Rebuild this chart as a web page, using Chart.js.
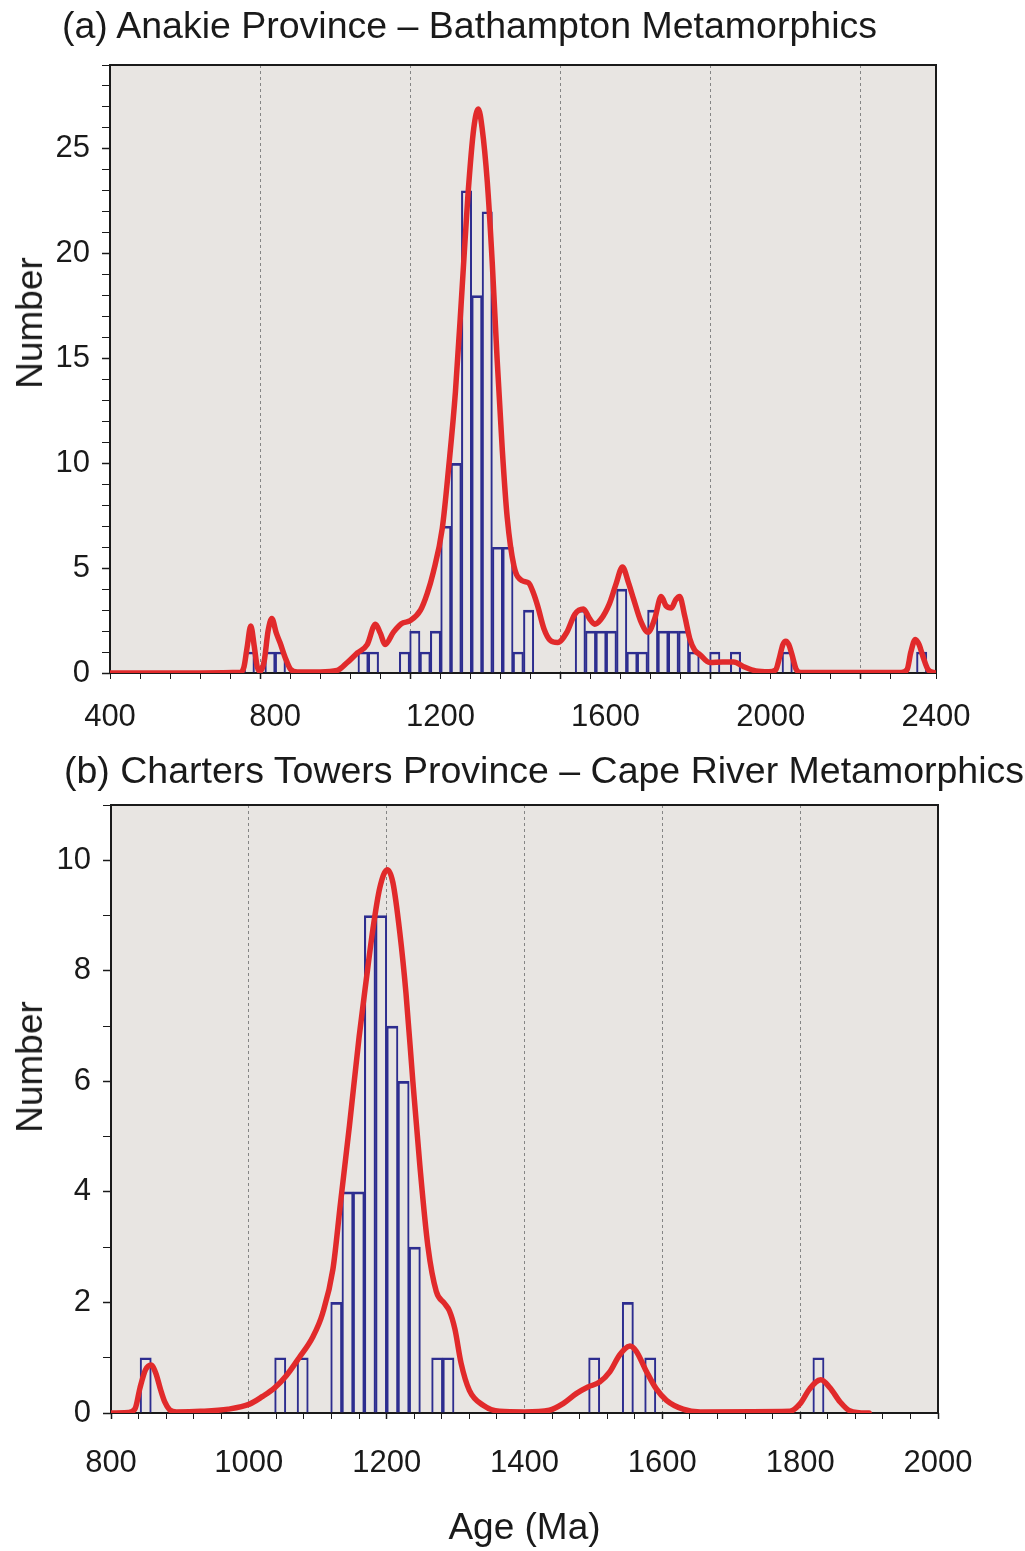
<!DOCTYPE html>
<html lang="en">
<head>
<meta charset="UTF-8">
<title>Detrital zircon age spectra</title>
<script src="https://cdn.jsdelivr.net/npm/chart.js"></script>
<style>
  body { margin: 0; background: #fff; font-family: "Liberation Sans", Arial, sans-serif; }
  .page { position: relative; width: 1025px; height: 1551px; overflow: hidden; }
  .panel { position: absolute; left: 0; width: 1025px; }
  .panel-title { position: absolute; font-size: 37.5px; line-height: 44px; color: #1a1a1a; white-space: nowrap; }
  .y-title { position: absolute; font-size: 37px; line-height: 44px; color: #1a1a1a; white-space: nowrap;
             transform: translate(-50%, -50%) rotate(-90deg); }
</style>
</head>
<body>
<div class="page">
  <div class="panel" style="top:0;height:740px"><canvas id="chartA"></canvas></div>
  <div class="panel" style="top:740px;height:811px"><canvas id="chartB"></canvas></div>
  <div class="panel-title" style="left:62px;top:3px">(a) Anakie Province – Bathampton Metamorphics</div>
  <div class="panel-title" style="left:64px;top:748px">(b) Charters Towers Province – Cape River Metamorphics</div>
  <div class="y-title" style="left:30px;top:323px">Number</div>
  <div class="y-title" style="left:30px;top:1067px">Number</div>
</div>

<script>
    // ---- (a) Anakie Province - Bathampton Metamorphics ----
    const binStartA = 757.3;   // Ma, left edge of first bin
    const binWidthA = 27.55;   // Ma
    const countsA = [1, 0, 1, 1, 0, 0, 0, 0, 0, 0, 0, 1, 1, 0, 0,
                     1, 2, 1, 2, 7, 10, 23, 18, 22, 6, 6, 1, 3,
                     0, 0, 0, 0,
                     3, 2, 2, 2, 4, 1, 1, 3, 2, 2, 2, 1, 0, 1, 0, 1,
                     0, 0, 0, 0, 1,
                     0, 0, 0, 0, 0, 0, 0, 0, 0, 0, 0, 0, 1];
    // probability density curve (scaled to counts)
    const kdeAgeA = [400, 640, 747, 757, 765, 775, 784, 792, 800, 811, 821, 831, 843, 853, 867, 880, 899,
                     960, 1005, 1032, 1059, 1085, 1107, 1120, 1133, 1155, 1176, 1200, 1227, 1245, 1261,
                     1285, 1302, 1320, 1338, 1353, 1369, 1381, 1391, 1405, 1418, 1431, 1445, 1458, 1476,
                     1498, 1515, 1528, 1539, 1556, 1573, 1592, 1616, 1638, 1661, 1677, 1691, 1707, 1730,
                     1747, 1765, 1781, 1795, 1813, 1833, 1851, 1868, 1881, 1895, 1907, 1917, 1931, 1944,
                     1957, 1971, 1997, 2032, 2061, 2088, 2120, 2155, 2173, 2184, 2192, 2200, 2208, 2216,
                     2227, 2240, 2507, 2523, 2533, 2545, 2555, 2565, 2579, 2595, 2600];
    const kdeNumA = [0, 0, 0.03, 0.3, 1.2, 2.24, 1.3, 0.3, 0.08, 0.6, 2.0, 2.6, 1.9, 1.44, 0.72, 0.2, 0.05,
                     0.05, 0.12, 0.5, 0.96, 1.35, 2.33, 1.9, 1.36, 1.95, 2.35, 2.5, 3.0, 3.8, 4.8,
                     6.9, 9.8, 13.4, 18.4, 22.7, 26.0, 26.9, 26.0, 23.4, 19.6, 15.0, 10.6, 7.4, 5.1,
                     4.4, 4.3, 3.8, 3.2, 2.1, 1.55, 1.45, 1.92, 2.8, 3.05, 2.6, 2.33, 2.55, 3.3,
                     4.2, 5.05, 4.3, 3.5, 2.5, 1.95, 2.6, 3.65, 3.2, 3.1, 3.5, 3.65, 2.7, 1.65,
                     1.1, 0.88, 0.5, 0.52, 0.52, 0.3, 0.1, 0.06, 0.15, 0.8, 1.35, 1.52, 1.35, 0.9,
                     0.2, 0.02, 0.02, 0.16, 1.0, 1.6, 1.35, 0.8, 0.16, 0.02, 0];
    const gridA = [800, 1200, 1600, 2000, 2400];
    const xLabelsA = [400, 800, 1200, 1600, 2000, 2400];
    const yLabelsA = [0, 5, 10, 15, 20, 25];

    // ---- (b) Charters Towers Province - Cape River Metamorphics ----
    const binStartB = 842.2;
    const binWidthB = 16.27;
    const countsB = [1, 0, 0, 0, 0, 0, 0, 0, 0, 0, 0, 0,
                     1, 0, 1, 0, 0,
                     2, 4, 4, 9, 9, 7, 6, 3, 0, 1, 1,
                     0, 0, 0, 0, 0, 0, 0, 0, 0, 0, 0, 0,
                     1, 0, 0, 2, 0, 1,
                     0, 0, 0, 0, 0, 0, 0, 0, 0, 0, 0, 0, 0, 0, 1];
    const kdeAgeB = [800, 825, 835, 842, 850, 858, 865, 872, 878, 885, 895, 930, 970, 1001, 1020, 1037,
                     1054, 1073, 1093, 1107, 1122, 1133, 1146, 1160, 1170, 1180, 1190, 1201, 1209, 1219,
                     1228, 1238, 1248, 1260, 1272, 1284, 1291, 1299, 1308, 1320, 1340, 1364, 1400, 1436,
                     1456, 1475, 1492, 1509, 1524, 1538, 1553, 1562, 1577, 1591, 1606, 1630, 1655, 1785,
                     1800, 1814, 1830, 1843, 1858, 1872, 1896, 1900];
    const kdeNumB = [0, 0.01, 0.08, 0.45, 0.78, 0.87, 0.72, 0.42, 0.2, 0.06, 0.02, 0.03, 0.07, 0.16, 0.3, 0.45,
                     0.67, 1.0, 1.38, 1.8, 2.6, 3.8, 5.2, 6.8, 7.8, 8.75, 9.5, 9.83, 9.6, 8.7,
                     7.6, 6.0, 4.5, 3.0, 2.2, 1.98, 1.85, 1.52, 0.9, 0.41, 0.14, 0.03, 0.02, 0.05,
                     0.17, 0.35, 0.47, 0.56, 0.75, 1.05, 1.21, 1.12, 0.75, 0.44, 0.23, 0.07, 0.02, 0.03,
                     0.17, 0.44, 0.6, 0.46, 0.2, 0.04, 0, 0];
    const gridB = [1000, 1200, 1400, 1600, 1800];
    const xLabelsB = [800, 1000, 1200, 1400, 1600, 1800, 2000];
    const yLabelsB = [0, 2, 4, 6, 8, 10];

    const RED = '#e12a2b';
    const NAVY = '#2d2d8f';
    const INK = '#1a1a1a';
    const PLOT_BG = '#e8e5e2';

    Chart.defaults.font.family = '"Liberation Sans", Arial, sans-serif';
    Chart.defaults.color = INK;

    // grey plot background + black frame around the chart area
    const plotFrame = {
        id: 'plotFrame',
        beforeDraw(chart) {
            const { ctx, chartArea: a } = chart;
            ctx.save();
            ctx.fillStyle = PLOT_BG;
            ctx.fillRect(a.left, a.top, a.right - a.left, a.bottom - a.top);
            ctx.restore();
        },
        beforeDatasetsDraw(chart) {
            const { ctx, chartArea: a } = chart;
            ctx.save();
            ctx.strokeStyle = INK;
            ctx.lineWidth = 2;
            ctx.strokeRect(a.left, a.top, a.right - a.left, a.bottom - a.top);
            ctx.restore();
        }
    };

    function histPoints(start, width, counts) {
        return counts.map((n, i) => ({ x: start + (i + 0.5) * width, y: n }));
    }

    function curvePoints(ages, nums) {
        return ages.map((a, i) => ({ x: a, y: nums[i] }));
    }

    function datasets(hist, curve) {
        return [
            {
                type: 'line',
                data: curve,
                borderColor: RED,
                borderWidth: 5.5,
                pointRadius: 0,
                fill: false,
                cubicInterpolationMode: 'monotone',
                borderCapStyle: 'round',
                borderJoinStyle: 'round',
                order: 0
            },
            {
                type: 'bar',
                data: hist,
                backgroundColor: 'rgba(0,0,0,0)',
                borderColor: NAVY,
                borderWidth: { top: 2, left: 1.4, right: 1.4, bottom: 0 },
                borderSkipped: false,
                barPercentage: 1,
                categoryPercentage: 1,
                order: 1
            }
        ];
    }

    function yAxis(max, labels, width) {
        return {
            min: 0,
            max: max,
            grid: { drawOnChartArea: false, tickColor: INK, tickLength: 8, tickWidth: c => labels.includes(c.tick.value) ? 1.5 : 1 },
            border: { display: false },
            ticks: {
                stepSize: 1,
                autoSkip: false,
                padding: 12,
                font: { size: 31 },
                callback: v => labels.includes(v) ? String(v) : ''
            },
            afterFit: s => { s.width = width; }
        };
    }

    // (a)
    new Chart(document.getElementById('chartA'), {
        type: 'bar',
        data: { datasets: datasets(histPoints(binStartA, binWidthA, countsA), curvePoints(kdeAgeA, kdeNumA)) },
        options: {
            responsive: true,
            maintainAspectRatio: false,
            animation: false,
            layout: { padding: { top: 65, right: 89, left: 0, bottom: 0 } },
            plugins: { legend: { display: false }, tooltip: { enabled: false } },
            scales: {
                x: {
                    type: 'linear',
                    min: 400,
                    max: 2600,
                    offset: false,
                    weight: 0,
                    grid: {
                        offset: false,
                        color: c => gridA.includes(c.tick.value) ? '#858585' : 'rgba(0,0,0,0)',
                        tickColor: INK,
                        tickLength: 6,
                        tickWidth: c => gridA.includes(c.tick.value) ? 1.5 : 1
                    },
                    border: { display: false, dash: [3, 3] },
                    ticks: { display: false, stepSize: 80 },
                    afterFit: s => { s.height = 0; }
                },
                xl: {
                    type: 'linear',
                    position: 'bottom',
                    min: 400,
                    max: 2400,
                    offset: false,
                    weight: 1,
                    grid: { display: false, offset: false },
                    border: { display: false },
                    afterBuildTicks: s => { s.ticks = xLabelsA.map(v => ({ value: v })); },
                    ticks: { padding: 18, maxRotation: 0, autoSkip: false, font: { size: 31 }, callback: v => String(v) },
                    afterFit: s => { s.height = 67; }
                },
                y: yAxis(29, yLabelsA, 110)
            }
        },
        plugins: [plotFrame]
    });

    // (b)
    new Chart(document.getElementById('chartB'), {
        type: 'bar',
        data: { datasets: datasets(histPoints(binStartB, binWidthB, countsB), curvePoints(kdeAgeB, kdeNumB)) },
        options: {
            responsive: true,
            maintainAspectRatio: false,
            animation: false,
            layout: { padding: { top: 65, right: 87, left: 0, bottom: 0 } },
            plugins: { legend: { display: false }, tooltip: { enabled: false } },
            scales: {
                x: {
                    type: 'linear',
                    min: 800,
                    max: 2000,
                    offset: false,
                    grid: {
                        offset: false,
                        color: c => gridB.includes(c.tick.value) ? '#858585' : 'rgba(0,0,0,0)',
                        tickColor: INK,
                        tickLength: 6,
                        tickWidth: c => xLabelsB.includes(c.tick.value) ? 1.5 : 1
                    },
                    border: { display: false, dash: [3, 3] },
                    ticks: {
                        stepSize: 40,
                        autoSkip: false,
                        maxRotation: 0,
                        minRotation: 0,
                        padding: 26,
                        font: { size: 31 },
                        callback: v => xLabelsB.includes(v) ? String(v) : ''
                    },
                    title: { display: true, text: 'Age (Ma)', font: { size: 37 }, padding: { top: 0, bottom: 0 } },
                    afterFit: s => { s.height = 138; }
                },
                y: yAxis(11, yLabelsB, 111)
            }
        },
        plugins: [plotFrame]
    });
</script>
</body>
</html>
